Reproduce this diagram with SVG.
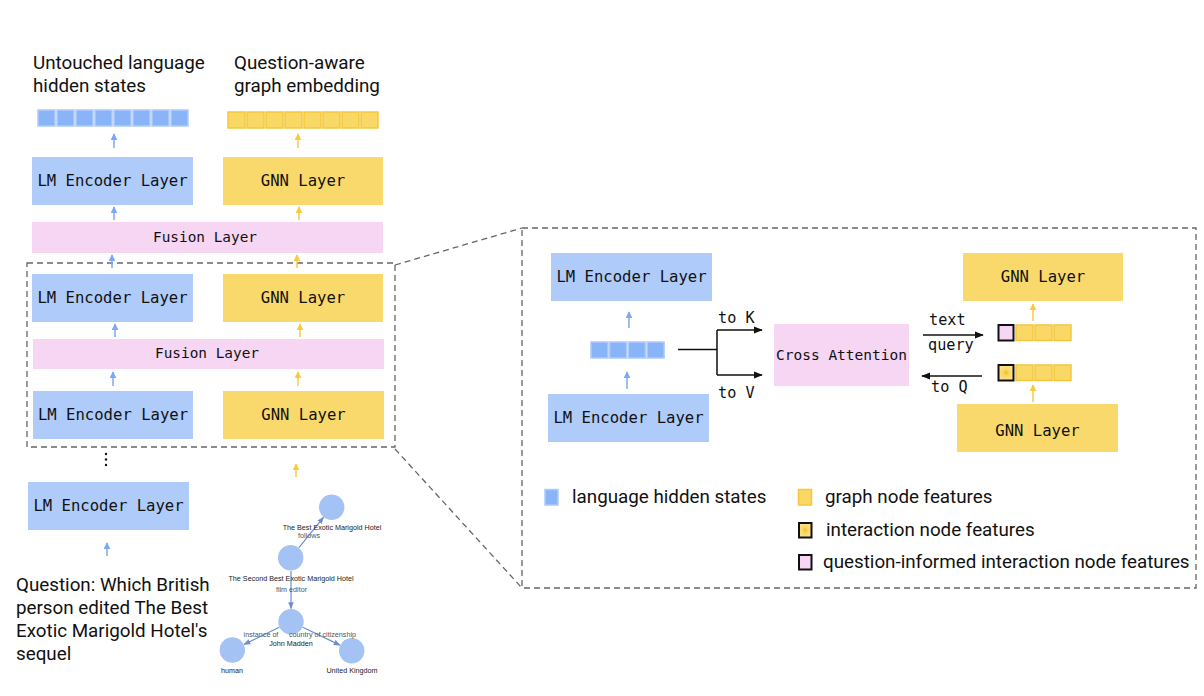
<svg xmlns="http://www.w3.org/2000/svg" width="1204" height="696" viewBox="0 0 1204 696">
<defs>
<style>
.lm{fill:#aecbfa}
.gnn{fill:#f9d96c}
.fus{fill:#f6d6f3}
.mono{font-family:"DejaVu Sans Mono","Liberation Mono",monospace;fill:#111}
.sans{font-family:Roboto,"Liberation Sans",sans-serif;fill:#111}
.bc{fill:#8ab4f8;stroke:#aecbfa;stroke-width:1.5}
.yc{fill:#f9d865;stroke:#f5c73e;stroke-width:1.5}
.ab{stroke:#7da7f6;stroke-width:1.5;fill:none}
.ay{stroke:#f7cb3c;stroke-width:1.5;fill:none}
.ak{stroke:#111;stroke-width:1.5;fill:none}
.dash{fill:none;stroke:#666;stroke-width:1.3;stroke-dasharray:6 4}
.gn{fill:#a4c2f4}
.ge{stroke:#6d8fcf;stroke-width:1.2;fill:none}
.gl{font-family:"Liberation Sans",Arial,sans-serif;font-size:7.2px;fill:#222;text-anchor:middle}
.gel{font-family:"Liberation Sans",Arial,sans-serif;font-size:7.2px;fill:#555;text-anchor:middle}
</style>
<marker id="mb" viewBox="0 0 10 10" refX="9" refY="5" markerWidth="7" markerHeight="7" markerUnits="userSpaceOnUse" orient="auto"><path d="M0,0 L10,5 L0,10 z" fill="#7da7f6"/></marker>
<marker id="my" viewBox="0 0 10 10" refX="9" refY="5" markerWidth="7" markerHeight="7" markerUnits="userSpaceOnUse" orient="auto"><path d="M0,0 L10,5 L0,10 z" fill="#f7cb3c"/></marker>
<marker id="mk" viewBox="0 0 10 10" refX="9" refY="5" markerWidth="9" markerHeight="9" markerUnits="userSpaceOnUse" orient="auto"><path d="M0,1 L10,5 L0,9 z" fill="#111"/></marker>
<marker id="mg" viewBox="0 0 10 10" refX="9" refY="5" markerWidth="7" markerHeight="7" markerUnits="userSpaceOnUse" orient="auto"><path d="M0,1 L10,5 L0,9 z" fill="#6d8fcf"/></marker>
<radialGradient id="rg" cx="0.5" cy="0.5" r="0.6"><stop offset="0" stop-color="#f4bf16"/><stop offset="0.35" stop-color="#f9d766"/><stop offset="1" stop-color="#fde794"/></radialGradient>
</defs>

<!-- titles -->
<g id="title-lm">
<text class="sans" x="33" y="69" font-size="18.8">Untouched language</text>
<text class="sans" x="33" y="92" font-size="18.8">hidden states</text>
</g>
<g id="title-gnn">
<text class="sans" x="234" y="69" font-size="18.8">Question-aware</text>
<text class="sans" x="234" y="92" font-size="18.8">graph embedding</text>
</g>

<!-- output cells -->
<g id="lm-output">
<rect class="bc" x="38" y="110" width="17" height="16"/>
<rect class="bc" x="57" y="110" width="17" height="16"/>
<rect class="bc" x="76" y="110" width="17" height="16"/>
<rect class="bc" x="95" y="110" width="17" height="16"/>
<rect class="bc" x="114" y="110" width="17" height="16"/>
<rect class="bc" x="133" y="110" width="17" height="16"/>
<rect class="bc" x="152" y="110" width="17" height="16"/>
<rect class="bc" x="171" y="110" width="17" height="16"/>
</g>
<g id="gnn-output">
<rect class="yc" x="228" y="112" width="17" height="16"/>
<rect class="yc" x="247" y="112" width="17" height="16"/>
<rect class="yc" x="266" y="112" width="17" height="16"/>
<rect class="yc" x="285" y="112" width="17" height="16"/>
<rect class="yc" x="304" y="112" width="17" height="16"/>
<rect class="yc" x="323" y="112" width="17" height="16"/>
<rect class="yc" x="342" y="112" width="17" height="16"/>
<rect class="yc" x="361" y="112" width="17" height="16"/>
</g>

<!-- left stack -->
<g id="lm1"><rect class="lm" x="32" y="157" width="161" height="48"/><text class="mono" x="112.5" y="186" font-size="15.6" text-anchor="middle">LM Encoder Layer</text></g>
<g id="gnn1"><rect class="gnn" x="223" y="157" width="160" height="48"/><text class="mono" x="303" y="186" font-size="15.6" text-anchor="middle">GNN Layer</text></g>
<g id="fusion1"><rect class="fus" x="32" y="222" width="351" height="31"/><text class="mono" x="205" y="242" font-size="14.4" text-anchor="middle">Fusion Layer</text></g>
<g id="lm2"><rect class="lm" x="32" y="274" width="161" height="48"/><text class="mono" x="112.5" y="303" font-size="15.6" text-anchor="middle">LM Encoder Layer</text></g>
<g id="gnn2"><rect class="gnn" x="223" y="274" width="160" height="48"/><text class="mono" x="303" y="303" font-size="15.6" text-anchor="middle">GNN Layer</text></g>
<g id="fusion2"><rect class="fus" x="33" y="339" width="351" height="30"/><text class="mono" x="207" y="358" font-size="14.4" text-anchor="middle">Fusion Layer</text></g>
<g id="lm3"><rect class="lm" x="33" y="391" width="160" height="48"/><text class="mono" x="113" y="420" font-size="15.6" text-anchor="middle">LM Encoder Layer</text></g>
<g id="gnn3"><rect class="gnn" x="223" y="391" width="161" height="48"/><text class="mono" x="303.5" y="420" font-size="15.6" text-anchor="middle">GNN Layer</text></g>
<g id="dots"><circle cx="106" cy="454" r="1.2" fill="#111"/><circle cx="106" cy="459.5" r="1.2" fill="#111"/><circle cx="106" cy="465" r="1.2" fill="#111"/></g>
<g id="lm4"><rect class="lm" x="28" y="482" width="161" height="48"/><text class="mono" x="108.5" y="511" font-size="15.6" text-anchor="middle">LM Encoder Layer</text></g>

<g id="question">
<text class="sans" x="16" y="591" font-size="18.8">Question: Which British</text>
<text class="sans" x="16" y="614" font-size="18.8">person edited The Best</text>
<text class="sans" x="16" y="637" font-size="18.8">Exotic Marigold Hotel's</text>
<text class="sans" x="16" y="660" font-size="18.8">sequel</text>
</g>

<!-- knowledge graph -->
<g id="graph">
<g id="graph-edges">
<line class="ge" x1="298.9" y1="547.6" x2="323.5" y2="517.4" marker-end="url(#mg)"/>
<line class="ge" x1="291" y1="571" x2="291" y2="608.5" marker-end="url(#mg)"/>
<line class="ge" x1="279.3" y1="627.3" x2="244" y2="644.4" marker-end="url(#mg)"/>
<line class="ge" x1="302.7" y1="627.3" x2="340" y2="645.1" marker-end="url(#mg)"/>
</g>
<g id="kg-best"><circle class="gn" cx="331.7" cy="507.3" r="12.7"/><text class="gl" x="332" y="530">The Best Exotic Marigold Hotel</text></g>
<g id="kg-second"><circle class="gn" cx="290.7" cy="557.7" r="12.7"/><text class="gl" x="291" y="581">The Second Best Exotic Marigold Hotel</text></g>
<g id="kg-john"><circle class="gn" cx="291" cy="621.7" r="12.7"/><text class="gl" x="291" y="646">John Madden</text></g>
<g id="kg-human"><circle class="gn" cx="232.3" cy="650" r="12.7"/><text class="gl" x="232" y="673">human</text></g>
<g id="kg-uk"><circle class="gn" cx="351.7" cy="650.7" r="12.7"/><text class="gl" x="352" y="673">United Kingdom</text></g>
<text class="gel" x="309" y="537.5">follows</text>
<text class="gel" x="291.5" y="592">film editor</text>
<text class="gel" x="261" y="636.5">instance of</text>
<text class="gel" x="322.5" y="636.5">country of citizenship</text>
</g>

<!-- zoom box and callout -->
<g id="zoom-frame">
<rect class="dash" x="27" y="263" width="368" height="184"/>
<line class="dash" x1="395" y1="265" x2="522" y2="228"/>
<line class="dash" x1="395" y1="449" x2="522" y2="588"/>
<rect class="dash" x="522" y="228" width="674" height="360"/>
</g>

<!-- right panel -->
<g id="r-lm-top"><rect class="lm" x="551" y="253" width="161" height="48"/><text class="mono" x="631.5" y="282" font-size="15.6" text-anchor="middle">LM Encoder Layer</text></g>
<g id="r-lm-bottom"><rect class="lm" x="548" y="394" width="161" height="48"/><text class="mono" x="628.5" y="423" font-size="15.6" text-anchor="middle">LM Encoder Layer</text></g>
<g id="r-lm-cells">
<rect class="bc" x="591" y="342" width="17" height="16"/>
<rect class="bc" x="609.7" y="342" width="17" height="16"/>
<rect class="bc" x="628.4" y="342" width="17" height="16"/>
<rect class="bc" x="647.1" y="342" width="17" height="16"/>
</g>
<g id="cross-attention"><rect class="fus" x="774" y="324" width="135" height="62"/><text class="mono" x="841.5" y="360" font-size="14.5" text-anchor="middle">Cross Attention</text></g>
<g id="r-gnn-top"><rect class="gnn" x="963" y="253" width="160" height="48"/><text class="mono" x="1043" y="282" font-size="15.6" text-anchor="middle">GNN Layer</text></g>
<g id="r-gnn-bottom"><rect class="gnn" x="957" y="404" width="161" height="48"/><text class="mono" x="1037.5" y="436" font-size="15.6" text-anchor="middle">GNN Layer</text></g>
<g id="r-cells-top">
<rect x="998.5" y="325" width="15" height="15.5" fill="#f6d6f3" stroke="#111" stroke-width="2"/>
<rect class="yc" x="1016" y="325" width="17" height="15.5"/>
<rect class="yc" x="1035" y="325" width="17" height="15.5"/>
<rect class="yc" x="1054" y="325" width="17" height="15.5"/>
</g>
<g id="r-cells-bottom">
<rect x="998.5" y="365" width="15" height="15.5" fill="url(#rg)" stroke="#111" stroke-width="2"/>
<rect class="yc" x="1016" y="365" width="17" height="15.5"/>
<rect class="yc" x="1035" y="365" width="17" height="15.5"/>
<rect class="yc" x="1054" y="365" width="17" height="15.5"/>
</g>

<!-- connectors -->
<g id="connectors">
<line class="ab" x1="114" y1="148" x2="114" y2="134" marker-end="url(#mb)"/>
<line class="ay" x1="298" y1="148" x2="298" y2="134" marker-end="url(#my)"/>
<line class="ab" x1="114" y1="220" x2="114" y2="207" marker-end="url(#mb)"/>
<line class="ay" x1="299" y1="220" x2="299" y2="207" marker-end="url(#my)"/>
<line class="ab" x1="112" y1="268" x2="112" y2="255" marker-end="url(#mb)"/>
<line class="ay" x1="297" y1="268" x2="297" y2="255" marker-end="url(#my)"/>
<line class="ab" x1="115" y1="337" x2="115" y2="324" marker-end="url(#mb)"/>
<line class="ay" x1="300" y1="337" x2="300" y2="324" marker-end="url(#my)"/>
<line class="ab" x1="113" y1="386" x2="113" y2="372" marker-end="url(#mb)"/>
<line class="ay" x1="298" y1="386" x2="298" y2="372" marker-end="url(#my)"/>
<line class="ay" x1="296" y1="477" x2="296" y2="464" marker-end="url(#my)"/>
<line class="ab" x1="107" y1="556" x2="107" y2="543" marker-end="url(#mb)"/>

<line class="ab" x1="629" y1="328" x2="629" y2="312" marker-end="url(#mb)"/>
<line class="ab" x1="627" y1="389" x2="627" y2="372" marker-end="url(#mb)"/>
<line class="ay" x1="1033" y1="321" x2="1033" y2="304" marker-end="url(#my)"/>
<line class="ay" x1="1033" y1="402" x2="1033" y2="385" marker-end="url(#my)"/>

<path class="ak" d="M678,349.5 H717 M717,330 V375"/>
<line class="ak" x1="717" y1="330" x2="762" y2="330" marker-end="url(#mk)"/>
<line class="ak" x1="717" y1="375" x2="762" y2="375" marker-end="url(#mk)"/>
<line class="ak" x1="923" y1="335" x2="983" y2="335" marker-end="url(#mk)"/>
<line class="ak" x1="982" y1="376" x2="922" y2="376" marker-end="url(#mk)"/>
</g>

<g id="connector-labels">
<text class="mono" x="718" y="323" font-size="15.2">to K</text>
<text class="mono" x="718" y="398" font-size="15.2">to V</text>
<text class="mono" x="929" y="325" font-size="15.2">text</text>
<text class="mono" x="928" y="350" font-size="15.2">query</text>
<text class="mono" x="931" y="392" font-size="15.2">to Q</text>
</g>

<!-- legend -->
<g id="legend">
<g id="legend-lang"><rect x="545" y="489.5" width="13" height="15.5" fill="#8ab4f8" stroke="#aecbfa" stroke-width="1.5"/><text class="sans" x="572" y="503" font-size="18.8">language hidden states</text></g>
<g id="legend-graph"><rect x="798.5" y="489.5" width="13" height="15.5" fill="#f9d865" stroke="#f5c73e" stroke-width="1.5"/><text class="sans" x="825" y="503" font-size="18.8">graph node features</text></g>
<g id="legend-inter"><rect x="799" y="523" width="12.5" height="14.5" fill="url(#rg)" stroke="#111" stroke-width="2"/><text class="sans" x="826" y="536" font-size="18.8">interaction node features</text></g>
<g id="legend-qinter"><rect x="799" y="555" width="12.5" height="14.5" fill="#f6d6f3" stroke="#111" stroke-width="2"/><text class="sans" x="823" y="568" font-size="18.8">question-informed interaction node features</text></g>
</g>
</svg>
